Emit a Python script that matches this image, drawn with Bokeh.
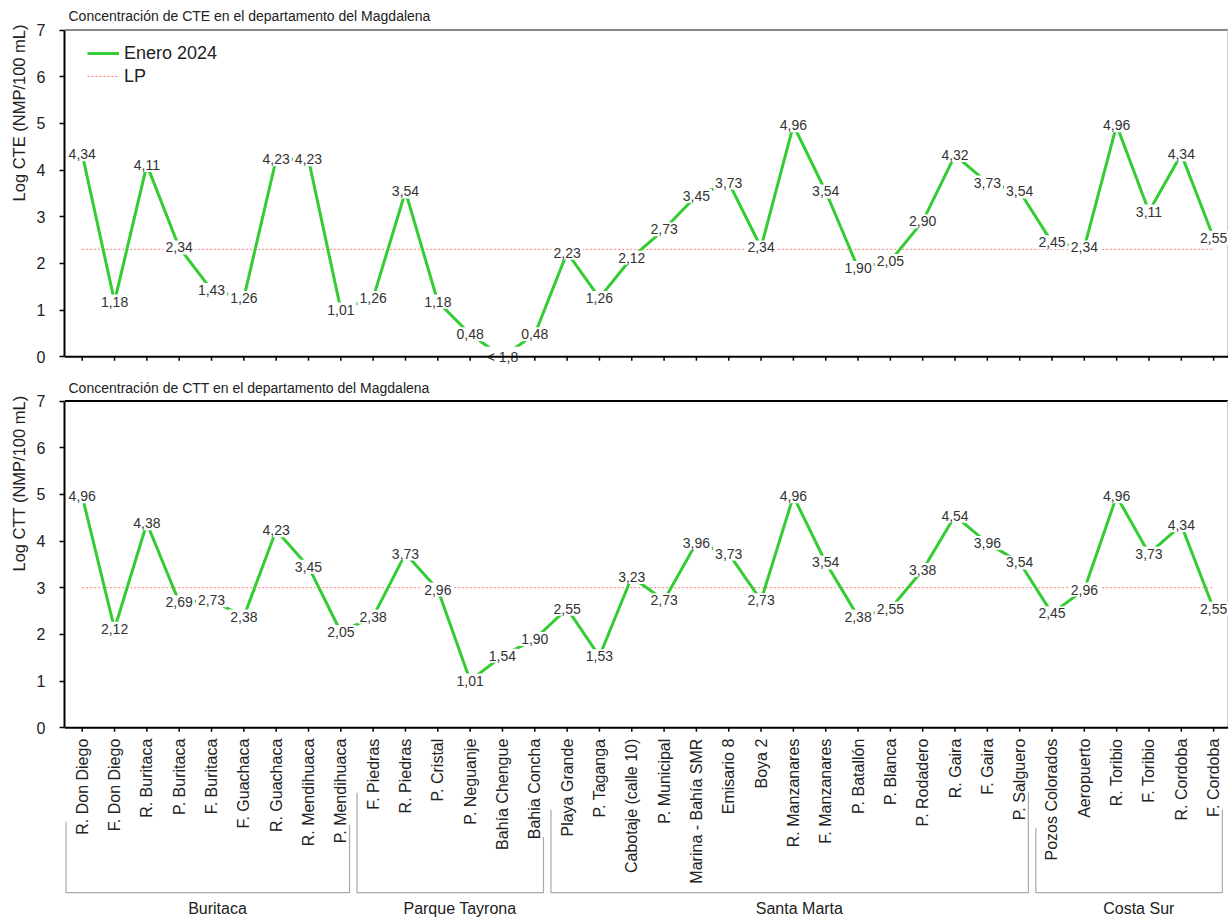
import math
from bokeh.plotting import figure
from bokeh.models import (Range1d, FixedTicker, Span, Title,
                          Legend, LegendItem, ColumnDataSource)
from bokeh.layouts import column
from bokeh.embed import file_html
from bokeh.resources import INLINE
from bokeh.core.properties import value

# ---------------- data ----------------
stations = [
    "R. Don Diego", "F. Don Diego", "R. Buritaca", "P. Buritaca", "F. Buritaca",
    "F. Guachaca", "R. Guachaca", "R. Mendihuaca", "P. Mendihuaca",
    "F. Piedras", "R. Piedras", "P. Cristal", "P. Neguanje", "Bahía Chengue",
    "Bahia Concha",
    "Playa Grande", "P. Taganga", "Cabotaje (calle 10)", "P. Municipal",
    "Marina - Bahía SMR", "Emisario 8", "Boya 2", "R. Manzanares",
    "F. Manzanares", "P. Batallón", "P. Blanca", "P. Rodadero", "R. Gaira",
    "F. Gaira", "P. Salguero",
    "Pozos Colorados", "Aeropuerto", "R. Toribio", "F. Toribio", "R. Cordoba",
    "F. Cordoba",
]
cte = [4.34, 1.18, 4.11, 2.34, 1.43, 1.26, 4.23, 4.23, 1.01,
       1.26, 3.54, 1.18, 0.48, 0.00, 0.48,
       2.23, 1.26, 2.12, 2.73, 3.45, 3.73, 2.34, 4.96, 3.54, 1.90, 2.05, 2.90,
       4.32, 3.73, 3.54,
       2.45, 2.34, 4.96, 3.11, 4.34, 2.55]
cte_label_override = {13: "< 1,8"}
ctt = [4.96, 2.12, 4.38, 2.69, 2.73, 2.38, 4.23, 3.45, 2.05,
       2.38, 3.73, 2.96, 1.01, 1.54, 1.90,
       2.55, 1.53, 3.23, 2.73, 3.96, 3.73, 2.73, 4.96, 3.54, 2.38, 2.55, 3.38,
       4.54, 3.96, 3.54,
       2.45, 2.96, 4.96, 3.73, 4.34, 2.55]
lp_cte = 2.30
lp_ctt = 3.00
groups = ["Buritaca", "Parque Tayrona", "Santa Marta", "Costa Sur"]
group_sizes = [9, 6, 15, 6]
series_name = "Enero 2024"
titles = ["Concentración de CTE en el departamento del Magdalena",
          "Concentración de CTT en el departamento del Magdalena"]
ylabels = ["Log CTE (NMP/100 mL)", "Log CTT (NMP/100 mL)"]
yticks = [0, 1, 2, 3, 4, 5, 6, 7]

# ---------------- style / layout ----------------
FONT = "Liberation Sans"
GREEN = "#33CC33"
LPCOL = "#FF7A7A"
W = 1228
LEFT = 64
PPU = 46.67         # pixels per log unit
YMAX = 7
TOPPAD = 1.5        # px between frame top and the 7 level
bracket_tops_px = [(94, 97), (65, 109), (82, 64), (100, 82)]

idx = list(range(len(stations)))
x_range = Range1d(-0.548, len(stations) - 1 + 0.46)


def fmt(v):
    return f"{v:.2f}".replace(".", ",")


def make_panel(vals, lp, title, ylabel, height, top, title_standoff,
               with_xlabels, top_color, overrides=None, legend=False):
    frame_h = height - top
    y_end = YMAX + TOPPAD / PPU
    y_start = -(frame_h - TOPPAD - YMAX * PPU) / PPU
    p = figure(width=W, height=height, x_range=x_range,
               y_range=Range1d(y_start, y_end),
               min_border_left=LEFT, min_border_right=0,
               min_border_top=top, min_border_bottom=0,
               x_axis_location=None, toolbar_location=None,
               output_backend="svg", outline_line_color=None)
    p.grid.visible = False
    p.background_fill_color = "white"
    p.border_fill_color = "white"

    # title
    p.title.text = title
    p.title.align = "left"
    p.title.offset = 4
    p.title.standoff = title_standoff
    p.title.text_font = FONT
    p.title.text_font_size = "14px"
    p.title.text_font_style = "normal"
    p.title.text_color = "#222222"

    ya = p.yaxis[0]
    ya.ticker = FixedTicker(ticks=yticks)
    ya.bounds = (0, YMAX)
    ya.axis_line_color = "black"
    ya.axis_line_width = 2
    ya.major_tick_line_color = "black"
    ya.major_tick_line_width = 1.5
    ya.major_tick_out = 5
    ya.major_tick_in = 0
    ya.minor_tick_line_color = None
    ya.major_label_standoff = 14
    ya.major_label_text_font = FONT
    ya.major_label_text_font_size = "16px"
    ya.major_label_text_color = "#222222"

    # y label as a left-side title aligned to the top of the frame
    p.add_layout(Title(text=ylabel, align="right", offset=-4, standoff=11,
                       text_font=FONT, text_font_size="16.5px",
                       text_font_style="normal", text_color="#222222"), "left")

    # top and right borders of the 0..7 area
    x0, x1 = x_range.start, x_range.end
    p.segment(x0=[x0], y0=[YMAX], x1=[x1], y1=[YMAX],
              line_color=top_color, line_width=2)
    p.segment(x0=[x1 - 0.03], y0=[0], x1=[x1 - 0.03], y1=[YMAX],
              line_color="#cccccc", line_width=1)

    # LP line and series
    r_lp = p.line(x=[idx[0], idx[-1]], y=[lp, lp], line_color=LPCOL,
                  line_dash="2 2", line_width=1)
    r_ln = p.line(x=idx, y=vals, line_color=GREEN, line_width=3)

    # x ticks
    tl = 4 / PPU
    p.segment(x0=idx, y0=[0] * len(idx), x1=idx, y1=[-tl] * len(idx),
              line_color="black", line_width=1.5)

    # data labels
    labs = [fmt(v) for v in vals]
    if overrides:
        for k, t in overrides.items():
            labs[k] = t
    src = ColumnDataSource(dict(x=idx, y=vals, t=labs))
    p.text(x="x", y="y", text="t", source=src, text_align="center",
           text_baseline="middle", text_font=value(FONT), text_font_size="14px",
           text_color="#333333", background_fill_color="white", padding=2)

    # x axis line
    p.add_layout(Span(location=0, dimension="width", line_color="black",
                      line_width=2))

    if with_xlabels:
        p.text(x=idx, y=[-11 / PPU] * len(idx), text=stations, angle=math.pi / 2,
               text_align="right", text_baseline="middle",
               text_font=value(FONT), text_font_size="16px",
               text_color="#222222")
        # group brackets
        xs, ys, gx, gy = [], [], [], []
        start = 0
        ybot = -165 / PPU
        for g, n, (tl_px, tr_px) in zip(groups, group_sizes, bracket_tops_px):
            first, last = start, start + n - 1
            left, right = first - 0.5, last + 0.27
            xs.append([left, left, right, right])
            ys.append([-tl_px / PPU, ybot, ybot, -tr_px / PPU])
            gx.append((left + right) / 2 + 0.3)
            gy.append(-181 / PPU)
            start += n
        p.multi_line(xs=xs, ys=ys, line_color="#aaaaaa", line_width=1.2)
        p.text(x=gx, y=gy, text=groups, text_align="center",
               text_baseline="middle", text_font=value(FONT),
               text_font_size="16px", text_color="#222222")

    if legend:
        box_h = 6 + 22 + 1 + 22 + 6
        lg = Legend(items=[LegendItem(label=series_name, renderers=[r_ln]),
                           LegendItem(label="LP", renderers=[r_lp])],
                    location=(23, frame_h - 2 - box_h), margin=0, padding=6,
                    spacing=1, glyph_height=22, glyph_width=32,
                    label_height=22, label_standoff=5,
                    label_text_font=FONT, label_text_font_size="18px",
                    label_text_color="#222222",
                    background_fill_alpha=0, border_line_color=None)
        p.add_layout(lg)
    return p


p1 = make_panel(cte, lp_cte, titles[0], ylabels[0], height=370, top=28,
                title_standoff=10, with_xlabels=False, top_color="#888888",
                overrides=cte_label_override, legend=True)
p2 = make_panel(ctt, lp_ctt, titles[1], ylabels[1], height=550, top=29,
                title_standoff=7, with_xlabels=True, top_color="black")

layout = column(p1, p2, spacing=0)
open("out.html", "w").write(file_html(layout, INLINE))
